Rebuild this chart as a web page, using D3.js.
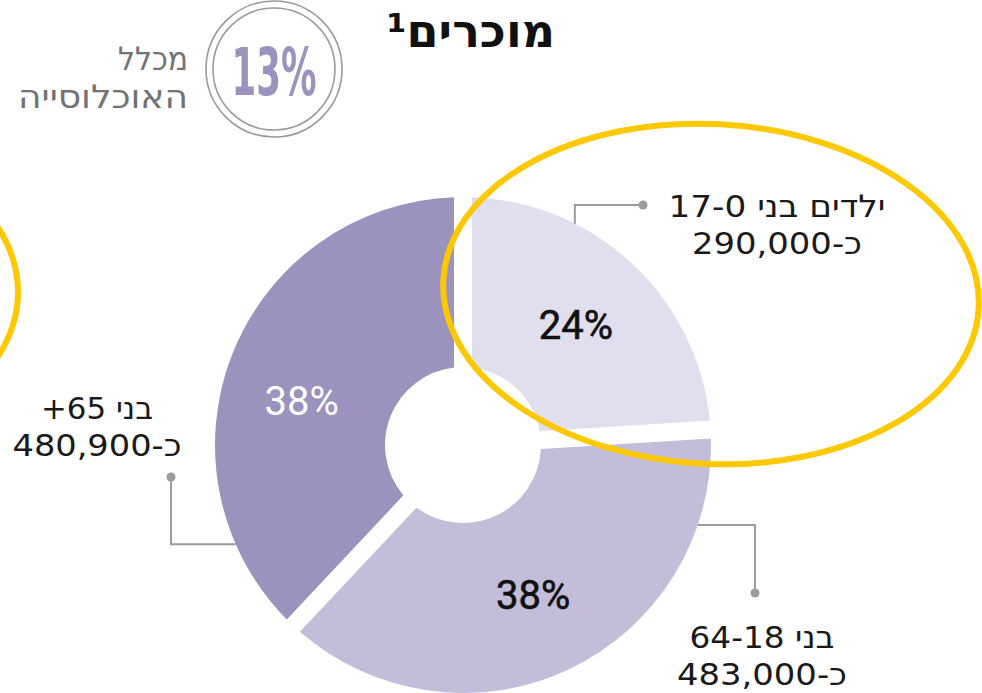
<!DOCTYPE html>
<html>
<head>
<meta charset="utf-8">
<script src="https://cdn.jsdelivr.net/npm/d3@7"></script>
<style>
  body { margin: 0; background: #fff; }
  svg { display: block; }
</style>
</head>
<body>
<svg id="chart" width="982" height="693"></svg>
<script>
// data
const groups = ["ילדים בני 17-0", "בני 64-18", "בני 65+"];
const shares = [24, 38, 38];
const counts = ["כ-290,000", "כ-483,000", "כ-480,900"];
const shareOfPopulation = "13%";
const title = "מוכרים¹";
const subtitle = ["מכלל", "האוכלוסייה"];

const sliceColors = ["#e1dfed", "#c3bdda", "#9b92bd"];
const pctColors = ["#111", "#111", "#fff"];
const pctNudge = [[0, 0], [0, 0], [-8, 16]];

const svg = d3.select("#chart");
const width = 982;
const height = 693;

svg.append("rect").attr("width", width).attr("height", height).attr("fill", "#fff");

const cx = 463;
const cy = 445;
const outerR = 248;
const innerR = 78;
const gap = 18; // white strip between slices

const data = groups.map((g, i) => ({ group: g, share: shares[i], count: counts[i], i }));

const pie = d3.pie().sort(null).value((d) => d.share);
const arcs = pie(data);

const arc = d3
  .arc()
  .innerRadius(innerR)
  .outerRadius(outerR)
  .padRadius(outerR)
  .padAngle(gap / outerR);

const labelArc = d3.arc().innerRadius(165).outerRadius(165);

const chart = svg.append("g").attr("transform", `translate(${cx},${cy})`);

chart
  .selectAll("path.slice")
  .data(arcs)
  .join("path")
  .attr("class", "slice")
  .attr("d", arc)
  .attr("fill", (d) => sliceColors[d.index]);

chart
  .selectAll("text.pct")
  .data(arcs)
  .join("text")
  .attr("class", "pct")
  .attr("x", (d) => labelArc.centroid(d)[0] + pctNudge[d.index][0])
  .attr("y", (d) => labelArc.centroid(d)[1] + pctNudge[d.index][1])
  .attr("dy", "0.36em")
  .attr("text-anchor", "middle")
  .style("font-family", "Roboto, 'Liberation Sans', sans-serif")
  .style("font-size", "40px")
  .style("fill", (d) => pctColors[d.index])
  .style("stroke", (d) => (d.index < 2 ? "#111" : "none"))
  .style("stroke-width", 0.6)
  .text((d) => d.data.share + "%");

// callouts: leader leaves the rim at an angle (deg, clockwise from top),
// bends once and ends in a dot; the label sits beside the dot
const callouts = [
  { angle: 26.8, first: "v", dot: [643, 205], label: [777, 217], widths: [217, 170] },
  { angle: 108.8, first: "h", dot: [755, 593], label: [762, 648], widths: [145, 170] },
  { angle: 246.4, first: "h", dot: [171, 477], label: [97, 419], widths: [112, 169] },
];

const lineGray = "#9b9b9b";
const leaders = svg.append("g");

callouts.forEach((c, i) => {
  const a = (c.angle * Math.PI) / 180;
  const edge = [cx + outerR * Math.sin(a), cy - outerR * Math.cos(a)];
  const elbow = c.first === "v" ? [edge[0], c.dot[1]] : [c.dot[0], edge[1]];
  leaders
    .append("path")
    .attr("d", d3.line()([edge, elbow, c.dot]))
    .attr("fill", "none")
    .attr("stroke", lineGray)
    .attr("stroke-width", 2);
  leaders
    .append("circle")
    .attr("cx", c.dot[0])
    .attr("cy", c.dot[1])
    .attr("r", 4.5)
    .attr("fill", lineGray);

  [data[i].group, data[i].count].forEach((line, k) => {
    leaders
      .append("text")
      .attr("x", c.label[0])
      .attr("y", c.label[1] + k * 37)
      .attr("text-anchor", "middle")
      .attr("direction", "rtl")
      .attr("textLength", c.widths[k])
      .attr("lengthAdjust", "spacingAndGlyphs")
      .style("font-family", "'DejaVu Sans', sans-serif")
      .style("font-size", "31px")
      .style("fill", "#1a1a1a")
      .text(line);
  });
});

// header
svg
  .append("text")
  .attr("x", 555)
  .attr("y", 47)
  .attr("text-anchor", "start")
  .attr("direction", "rtl")
  .style("font-family", "'DejaVu Sans', sans-serif")
  .style("font-size", "46px")
  .style("font-weight", "bold")
  .style("fill", "#111")
  .text(title);

const badge = svg.append("g").attr("transform", "translate(274,69)");
badge.append("circle").attr("r", 68).attr("fill", "none").attr("stroke", lineGray).attr("stroke-width", 1.6);
badge.append("circle").attr("r", 61).attr("fill", "none").attr("stroke", lineGray).attr("stroke-width", 1.6);
badge
  .append("text")
  .attr("x", 0)
  .attr("y", 26)
  .attr("text-anchor", "middle")
  .attr("textLength", 85)
  .attr("lengthAdjust", "spacingAndGlyphs")
  .style("font-family", "'DejaVu Sans Condensed', 'DejaVu Sans', sans-serif")
  .style("font-size", "66px")
  .style("font-weight", "bold")
  .style("fill", "#9b92bd")
  .text(shareOfPopulation);

const subWidths = [70, 170];
svg
  .append("g")
  .selectAll("text")
  .data(subtitle)
  .join("text")
  .attr("x", 188)
  .attr("y", (d, i) => 70 + i * 38)
  .attr("text-anchor", "start")
  .attr("direction", "rtl")
  .attr("textLength", (d, i) => subWidths[i])
  .attr("lengthAdjust", "spacingAndGlyphs")
  .style("font-family", "'DejaVu Sans', sans-serif")
  .style("font-size", "32px")
  .style("fill", "#737373")
  .text((d) => d);

// yellow highlight rings drawn over the chart
const yellow = "#fcc800";
svg
  .append("ellipse")
  .attr("transform", "translate(711,294) rotate(3)")
  .attr("rx", 268)
  .attr("ry", 170)
  .attr("fill", "none")
  .attr("stroke", yellow)
  .attr("stroke-width", 6);
svg
  .append("ellipse")
  .attr("transform", "translate(-250,292)")
  .attr("rx", 268)
  .attr("ry", 170)
  .attr("fill", "none")
  .attr("stroke", yellow)
  .attr("stroke-width", 6);
</script>
</body>
</html>
